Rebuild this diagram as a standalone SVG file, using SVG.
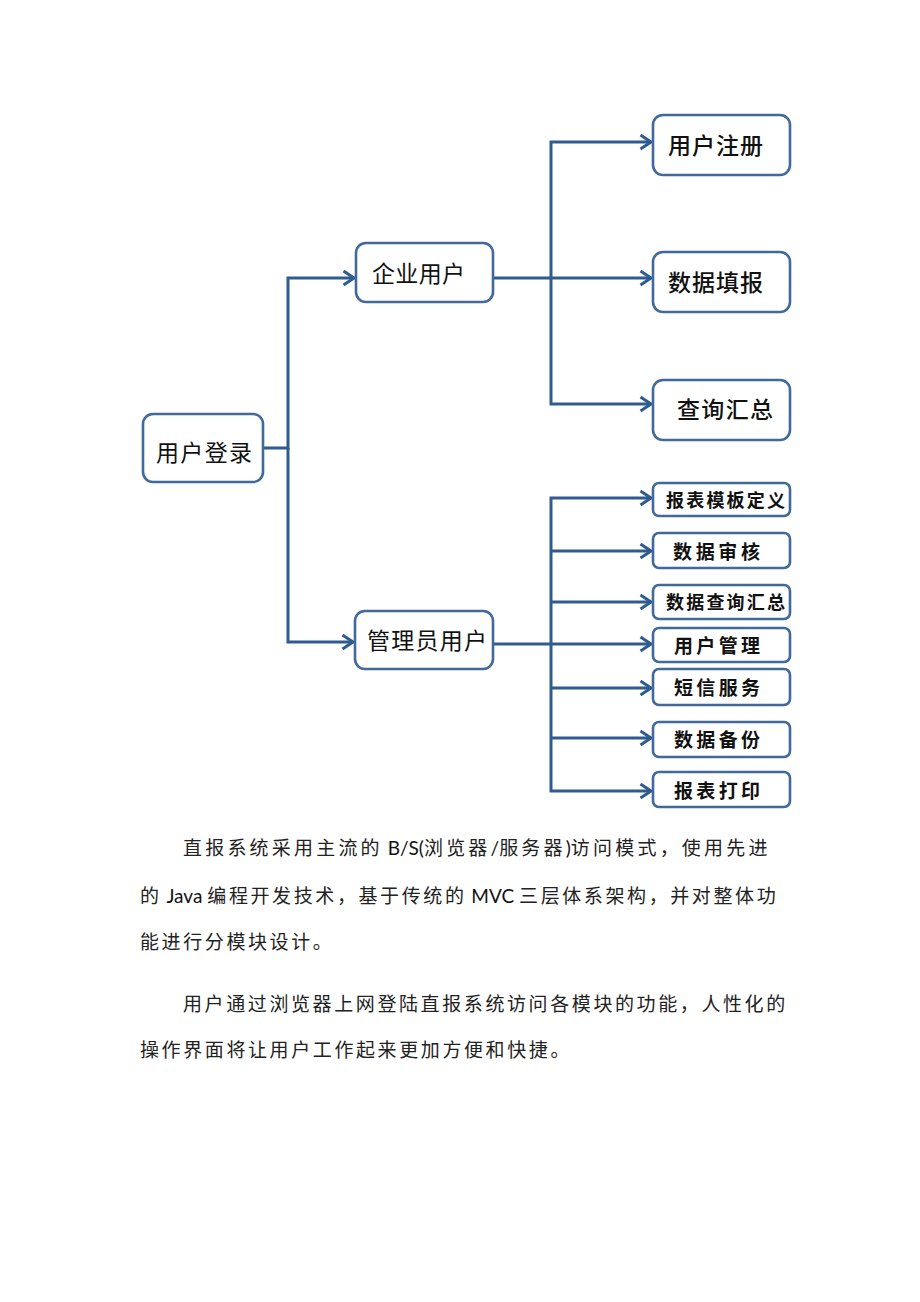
<svg xmlns="http://www.w3.org/2000/svg" width="920" height="1302" viewBox="0 0 920 1302">
<defs>
<marker id="arr" markerUnits="userSpaceOnUse" markerWidth="14" markerHeight="18" refX="12" refY="8" orient="auto">
<path d="M1.5,1 L12,8 L1.5,15" fill="none" stroke="#2F5B8F" stroke-width="3" stroke-linejoin="miter"/>
</marker>
<style>
.box{fill:#fff;stroke:#41699B;stroke-width:2.6}
.ln{fill:none;stroke:#2F5B8F;stroke-width:3}
.t{font-family:"Noto Sans CJK SC","Noto Sans",sans-serif;fill:#111}
.n1{font-size:23px;font-weight:normal}
.n2{font-size:23px;font-weight:500}
.n3{font-size:19px;font-weight:bold}
.p{font-family:"Noto Sans CJK SC","Noto Sans",sans-serif;font-size:19px;fill:#222;letter-spacing:2.6px}
.lat{font-family:Lato,"Liberation Sans",sans-serif;letter-spacing:0;fill:#111}
</style>
</defs>
<rect width="920" height="1302" fill="#fff"/>
<g id="connectors">
<path class="ln" d="M263,448 H288 V278 H354" marker-end="url(#arr)"/>
<path class="ln" d="M288,448 V642 H353" marker-end="url(#arr)"/>
<path class="ln" d="M493,278 H651" marker-end="url(#arr)"/>
<path class="ln" d="M551,278 V142 H651" marker-end="url(#arr)"/>
<path class="ln" d="M551,278 V404 H651" marker-end="url(#arr)"/>
<path class="ln" d="M493,644 H651" marker-end="url(#arr)"/>
<path class="ln" d="M551,644 V498 H651" marker-end="url(#arr)"/>
<path class="ln" d="M551,551 H651" marker-end="url(#arr)"/>
<path class="ln" d="M551,602 H651" marker-end="url(#arr)"/>
<path class="ln" d="M551,644 V791 H651" marker-end="url(#arr)"/>
<path class="ln" d="M551,688 H651" marker-end="url(#arr)"/>
<path class="ln" d="M551,738 H651" marker-end="url(#arr)"/>
</g>
<g id="login"><rect class="box" x="143" y="414" width="120" height="68" rx="10"/><text class="t n1" x="156" y="461" textLength="96">用户登录</text></g>
<g id="enterprise"><rect class="box" x="356" y="243" width="137" height="59" rx="10"/><text class="t n1" x="372" y="282" textLength="93">企业用户</text></g>
<g id="admin"><rect class="box" x="355" y="611" width="138" height="58" rx="10"/><text class="t n1" x="367" y="649" textLength="120">管理员用户</text></g>
<g id="reg"><rect class="box" x="653" y="115" width="137" height="60" rx="10"/><text class="t n2" x="668" y="154" textLength="95">用户注册</text></g>
<g id="fill"><rect class="box" x="653" y="252" width="137" height="60" rx="10"/><text class="t n2" x="668" y="291" textLength="95">数据填报</text></g>
<g id="query"><rect class="box" x="653" y="380" width="137" height="60" rx="10"/><text class="t n2" x="677" y="418" textLength="96">查询汇总</text></g>
<g id="tpl"><rect class="box" x="653" y="483" width="137" height="33" rx="6"/><text class="t n3" x="666" y="507" textLength="119" style="font-size:18px">报表模板定义</text></g>
<g id="audit"><rect class="box" x="653" y="533" width="137" height="35" rx="6"/><text class="t n3" x="673" y="559" textLength="87">数据审核</text></g>
<g id="dq"><rect class="box" x="653" y="585" width="137" height="34" rx="6"/><text class="t n3" x="666" y="609" textLength="119" style="font-size:18px">数据查询汇总</text></g>
<g id="um"><rect class="box" x="653" y="628" width="137" height="34" rx="6"/><text class="t n3" x="674" y="653" textLength="86">用户管理</text></g>
<g id="sms"><rect class="box" x="653" y="669" width="137" height="36" rx="6"/><text class="t n3" x="674" y="695" textLength="86">短信服务</text></g>
<g id="bak"><rect class="box" x="653" y="722" width="137" height="35" rx="6"/><text class="t n3" x="674" y="747" textLength="86">数据备份</text></g>
<g id="print"><rect class="box" x="653" y="772" width="137" height="35" rx="6"/><text class="t n3" x="674" y="798" textLength="86">报表打印</text></g>
<g id="paragraph">
<text class="p" x="183" y="855" style="letter-spacing:3.2px">直报系统采用主流的<tspan class="lat"> B/S(</tspan>浏览器<tspan class="lat">/</tspan>服务器<tspan class="lat">)</tspan>访问模式，使用先进</text>
<text class="p" x="140" y="903">的<tspan class="lat"> Java </tspan>编程开发技术，基于传统的<tspan class="lat"> MVC </tspan>三层体系架构，并对整体功</text>
<text class="p" x="140" y="949">能进行分模块设计。</text>
<text class="p" x="183" y="1011">用户通过浏览器上网登陆直报系统访问各模块的功能，人性化的</text>
<text class="p" x="140" y="1057">操作界面将让用户工作起来更加方便和快捷。</text>
</g>
</svg>
